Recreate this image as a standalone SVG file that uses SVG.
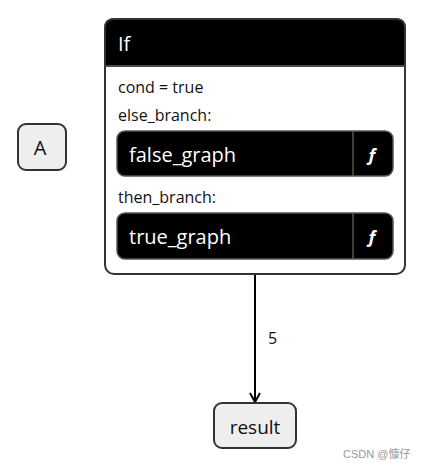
<svg xmlns="http://www.w3.org/2000/svg" width="426" height="470" viewBox="0 0 426 470">
<style>
text{font-family:"Open Sans","Noto Sans","DejaVu Sans",sans-serif}
.node{fill:#eeeeee;stroke:#333;stroke-width:2}
.lbl{font-size:19px;fill:#111;text-anchor:middle}
.attr{font-size:16px;fill:#111}
.sub{fill:#000;stroke:#555;stroke-width:1.5}
.subt{font-size:20px;fill:#fff}
.fn{font-size:18px;fill:#fff;font-style:italic;font-weight:bold;text-anchor:middle}
.edge{stroke:#000;stroke-width:2;fill:none}
</style>
<defs>
<marker id="arr" viewBox="0 0 12 12" refX="10" refY="6" markerWidth="12" markerHeight="12" markerUnits="userSpaceOnUse" orient="auto">
<path d="M1,1 L10,6 L1,11" fill="none" stroke="#000" stroke-width="2"/>
</marker>
</defs>
<rect width="426" height="470" fill="#fff"/>
<g id="connectors">
<path class="edge" d="M255,275 L255,402" marker-end="url(#arr)"/>
<text x="268" y="344" style="font-size:16px;fill:#111">5</text>
</g>
<g id="A">
<rect class="node" x="18" y="124" width="48" height="46" rx="8"/>
<text class="lbl" x="40" y="155" style="font-size:20px">A</text>
</g>
<g id="If">
<rect x="105" y="19" width="300" height="255" rx="9" fill="#fff" stroke="#333" stroke-width="2"/>
<path d="M105,66 L105,28 Q105,19 114,19 L396,19 Q405,19 405,28 L405,66 Z" fill="#000" stroke="#333" stroke-width="2"/>
<line x1="105" y1="66" x2="405" y2="66" stroke="#555" stroke-width="1.5"/>
<text x="118" y="51" style="font-size:20px;fill:#fff">If</text>
<text class="attr" x="118" y="93">cond = true</text>
<text class="attr" x="118" y="121">else_branch:</text>
<g id="false_graph">
<rect class="sub" x="117" y="131" width="276" height="45" rx="8"/>
<line x1="353" y1="131" x2="353" y2="176" stroke="#555" stroke-width="1.5"/>
<text class="subt" x="129" y="162">false_graph</text>
<text class="fn" x="372" y="161">ƒ</text>
</g>
<text class="attr" x="118" y="203">then_branch:</text>
<g id="true_graph">
<rect class="sub" x="117" y="213" width="276" height="46" rx="8"/>
<line x1="353" y1="213" x2="353" y2="259" stroke="#555" stroke-width="1.5"/>
<text class="subt" x="129" y="244">true_graph</text>
<text class="fn" x="372" y="243">ƒ</text>
</g>
</g>
<g id="result">
<rect class="node" x="214" y="403" width="82" height="45" rx="8"/>
<text class="lbl" x="255" y="434">result</text>
</g>
<text x="343" y="458" style="font-size:11px;fill:#999;font-family:'Liberation Sans','Noto Sans CJK SC',sans-serif">CSDN @慷仔</text>
</svg>
